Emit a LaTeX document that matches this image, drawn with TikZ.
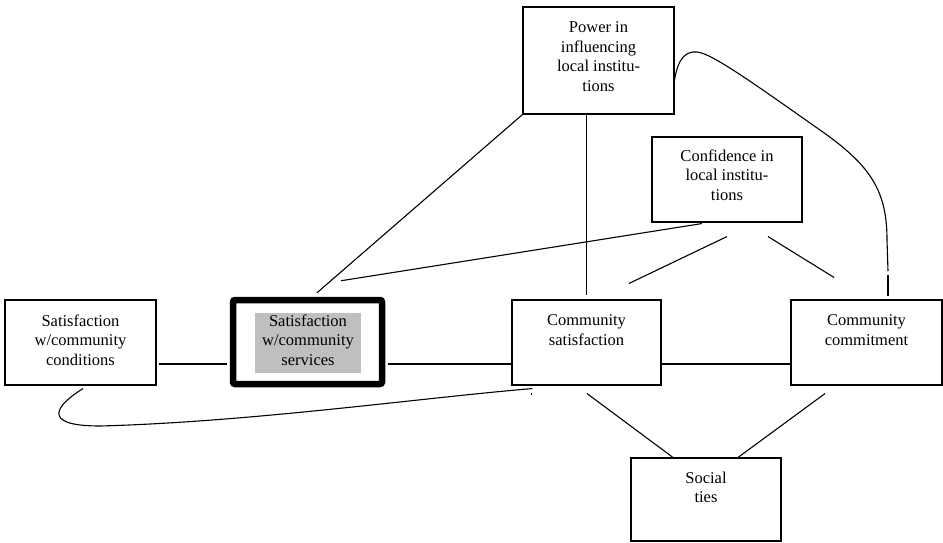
\documentclass[tikz,border=0pt]{standalone}
\usepackage{fontspec}
\setmainfont{Liberation Serif}
\usetikzlibrary{calc}
\begin{document}
\begin{tikzpicture}[x=1pt,y=-1pt,
  box/.style={draw, rectangle, line width=1.1pt, inner sep=0pt},
  thickbox/.style={draw, rectangle, line width=6.5pt, rounded corners=2pt, inner sep=0pt},
  txt/.style={inner sep=0pt, align=center, anchor=north, font=\fontsize{16.5}{19.5}\selectfont},
  ln/.style={line width=1.1pt},
  hl/.style={fill=black!25, draw=none, inner sep=0pt}]
\useasboundingbox (0,0) rectangle (943,543);
% boxes
\node[box, minimum width=151pt, minimum height=107pt] (pw) at (598.5,60.5) {};
\node[box, minimum width=150pt, minimum height=85pt] (cf) at (727,179.5) {};
\node[box, minimum width=151pt, minimum height=85pt] (cd) at (80.5,342.5) {};
\node[thickbox, minimum width=149pt, minimum height=84pt] (sv) at (307.5,342) {};
\node[hl, minimum width=106pt, minimum height=60pt] (svbg) at (308,343) {};
\node[box, minimum width=149pt, minimum height=85pt] (cs) at (586.5,342.5) {};
\node[box, minimum width=151pt, minimum height=85pt] (cm) at (866.5,342.5) {};
\node[box, minimum width=150pt, minimum height=83pt] (st) at (706,499.5) {};
% texts
\node[txt] (pwt) at ($(pw.north)+(0,15)$) {Power in\\influencing\\local institu-\\tions};
\node[txt] (cft) at ($(cf.north)+(0,13)$) {Confidence in\\local institu-\\tions};
\node[txt] (cdt) at ($(cd.north)+(0,15)$) {Satisfaction\\w/community\\conditions};
\node[txt] (svt) at ($(sv.north)+(0.5,17.5)$) {Satisfaction\\w/community\\services};
\node[txt] (cst) at ($(cs.north)+(0,15)$) {Community\\satisfaction};
\node[txt] (cmt) at ($(cm.north)+(0,15)$) {Community\\commitment};
\node[txt] (stt) at ($(st.north)+(0,14)$) {Social\\ties};
% connectors
\draw[ln] (pw.south west) -- ($(sv.north)+(9.5,-4)$);
\draw[ln] (cs.north |- pw.south) -- ($(cs.north)+(0,-4)$);
\draw[ln] ($(pw.east)+(0,19.5)$) .. controls (678,58) and (686,51) .. (697,52)
  .. controls (712,53) and (760,88) .. (820,130)
  .. controls (870,165) and (887,190) .. (887,240) -- (888,271);
\draw[ln] (888,275) -- ($(cm.north)+(21.5,-3)$);
\draw[ln] ($(cf.south)+(-25,1)$) -- ($(sv.north)+(33.5,-16)$);
\draw[ln] ($(cf.south)+(0,14)$) -- ($(cs.north)+(42.5,-16)$);
\draw[ln] ($(cf.south)+(41,14)$) -- ($(cm.north)+(-32.5,-22)$);
\draw[ln] ($(cd.east)+(2,21.5)$) -- ($(sv.west)+(-3,22)$);
\draw[ln] ($(sv.east)+(3,22)$) -- ($(cs.west)+(0,21.5)$);
\draw[ln] ($(cs.east)+(0,21.5)$) -- ($(cm.west)+(0,21.5)$);
\draw[ln] ($(cs.south)+(0.5,8)$) -- ($(st.north)+(-33,0)$);
\draw[ln] ($(cm.south)+(-41.5,8)$) -- ($(st.north)+(32,0)$);
\draw[ln] ($(cd.south)+(2.5,3)$) .. controls (58,404) and (38,426) .. (100,426)
  .. controls (250,422) and (420,398) .. ($(cs.south west)+(21,3)$);
\draw[line width=0.8pt] ($(cs.south west)+(20,7)$) -- ($(cs.south west)+(20,9)$);
\end{tikzpicture}
\end{document}
